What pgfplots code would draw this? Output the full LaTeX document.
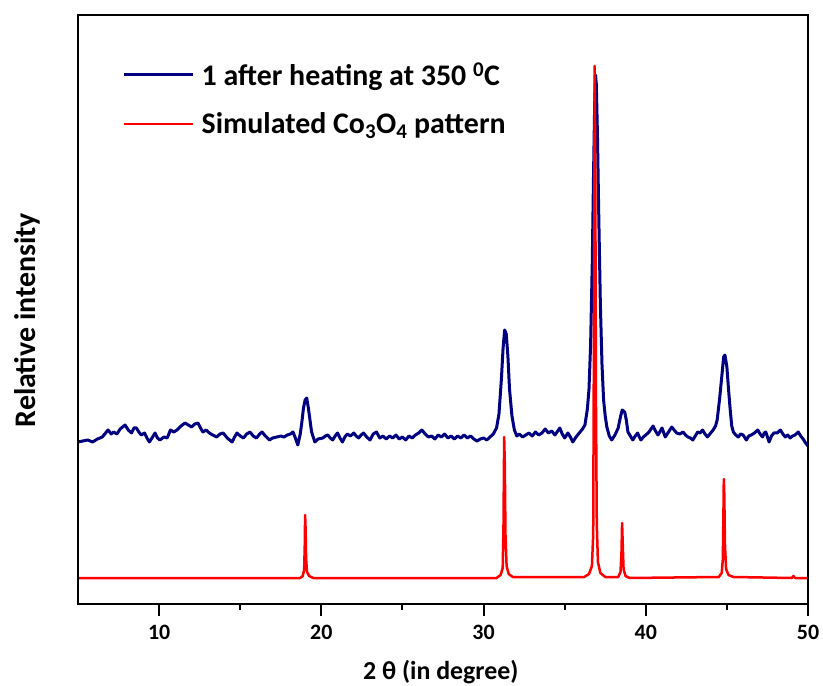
\documentclass[border=0pt]{standalone}
\usepackage{fontspec}
\setmainfont{Carlito}
\usepackage{pgfplots}
\pgfplotsset{compat=1.18}
\definecolor{navyb}{RGB}{0,0,128}
\definecolor{redr}{RGB}{255,0,0}
\begin{document}
\begin{tikzpicture}
\begin{axis}[
  scale only axis,
  width=730bp, height=589bp,
  xmin=5, xmax=50, ymin=0, ymax=589,
  axis lines=box,
  xtick={10,20,30,40,50},
  minor x tick num=1,
  ytick=\empty,
  xtick pos=bottom,
  tick align=outside,
  major tick length=12bp,
  minor tick length=6bp,
  every tick/.style={black, line width=2bp},
  axis line style={line width=2.5bp},
  /pgf/number format/assume math mode=true,
  ticklabel style={font=\bfseries\fontsize{22}{26}\selectfont},
  xticklabel style={yshift=-6bp},
  xlabel={2 θ (in degree)},
  ylabel={Relative intensity},
  label style={font=\bfseries\fontsize{26}{30}\selectfont},
  ylabel style={font=\bfseries\fontsize{30}{34}\selectfont},
  xlabel style={at={(axis description cs:0.497,-0.1155)}, anchor=center},
  ylabel style={at={(axis description cs:-0.0699,0.482)}, anchor=center},
  legend style={draw=none, fill=none, at={(axis description cs:0.0616,0.923)}, anchor=north west,
    font=\bfseries\fontsize{30}{34}\selectfont, row sep=22bp, column sep=5bp, inner sep=0pt},
  legend cell align=left,
  legend image code/.code={\draw[#1, line width=2.5bp] (0bp,0bp) -- (69bp,0bp);},
]
\addplot[navyb, line width=3bp, line join=round] coordinates {
(5.0,162)(5.3,163)(5.6,164)(5.9,162)(6.2,165)(6.5,167)(6.85,174)(7.05,170)(7.2,172)(7.4,170)
(7.6,175)(7.9,179)(8.1,174)(8.3,171)(8.45,176)(8.6,176)(8.75,172)(8.9,169)(9.1,171)(9.25,166)
(9.4,162)(9.6,167)(9.75,171)(9.9,166)(10.05,164)(10.3,167)(10.5,166)(10.7,174)(10.9,172)(11.1,174)
(11.35,178)(11.6,181)(11.8,179)(12.0,177)(12.2,180)(12.4,181)(12.55,176)(12.7,172)(12.9,174)(13.1,171)
(13.3,169)(13.55,167)(13.75,170)(13.95,171)(14.2,166)(14.5,162)(14.65,167)(14.8,171)(15.0,168)(15.2,166)
(15.4,170)(15.6,172)(15.8,168)(16.0,166)(16.2,170)(16.35,172)(16.55,168)(16.8,164)(17.0,166)(17.25,167)
(17.5,168)(17.7,167)(17.9,169)(18.1,170)(18.25,172)(18.4,166)(18.55,159)(18.7,170)(18.8,182)(18.9,196)
(19.0,204)(19.1,206)(19.2,196)(19.3,184)(19.4,172)(19.6,162)(19.8,165)(20.1,166)(20.25,168)(20.4,169)
(20.55,166)(20.7,164)(20.85,168)(21.0,171)(21.15,166)(21.3,162)(21.45,167)(21.6,170)(21.8,168)(22.0,171)
(22.15,168)(22.3,166)(22.45,169)(22.6,171)(22.8,167)(23.0,164)(23.2,170)(23.4,172)(23.6,166)(23.8,168)
(24.0,165)(24.2,168)(24.4,166)(24.6,169)(24.8,165)(25.0,167)(25.2,164)(25.4,168)(25.6,166)(25.8,169)
(26.0,171)(26.2,174)(26.4,170)(26.6,167)(26.8,168)(27.0,165)(27.2,169)(27.4,167)(27.6,170)(27.8,166)
(28.0,168)(28.2,165)(28.4,168)(28.6,166)(28.8,169)(29.0,166)(29.2,168)(29.4,165)(29.6,163)(29.8,165)
(30.0,166)(30.2,164)(30.4,167)(30.6,170)(30.8,176)(30.95,190)(31.1,225)(31.2,255)(31.3,274)(31.4,270)
(31.5,248)(31.6,215)(31.75,188)(31.9,174)(32.05,168)(32.2,170)(32.4,167)(32.6,169)(32.8,171)(33.0,168)
(33.2,172)(33.4,169)(33.6,171)(33.8,175)(34.0,171)(34.2,173)(34.4,169)(34.7,176)(34.85,170)(35.0,166)
(35.2,171)(35.35,167)(35.5,162)(35.7,167)(35.95,172)(36.1,175)(36.25,179)(36.4,195)(36.5,215)(36.6,260)
(36.7,340)(36.78,430)(36.85,500)(36.9,529)(36.95,520)(37.02,470)(37.1,390)(37.2,300)(37.3,240)(37.4,204)
(37.5,188)(37.6,177)(37.75,168)(37.9,164)(38.1,169)(38.3,176)(38.45,188)(38.55,194)(38.7,192)(38.8,184)
(38.9,172)(39.05,168)(39.2,164)(39.35,168)(39.5,171)(39.6,167)(39.7,164)(39.85,167)(40.0,169)(40.2,172)
(40.45,178)(40.6,173)(40.75,169)(40.9,173)(41.0,176)(41.2,167)(41.4,172)(41.6,177)(41.75,174)(41.9,171)
(42.1,170)(42.3,172)(42.45,169)(42.6,167)(42.75,166)(42.9,164)(43.05,168)(43.2,172)(43.35,171)(43.5,174)
(43.65,170)(43.8,167)(44.0,171)(44.15,174)(44.3,178)(44.4,184)(44.55,205)(44.7,230)(44.8,247)(44.88,249)
(45.0,237)(45.1,215)(45.2,195)(45.3,178)(45.4,172)(45.55,169)(45.7,167)(45.85,170)(46.0,169)(46.2,164)
(46.35,168)(46.5,169)(46.7,171)(46.9,174)(47.05,170)(47.2,167)(47.3,171)(47.4,172)(47.5,167)(47.6,162)
(47.75,168)(47.9,171)(48.1,171)(48.3,174)(48.45,170)(48.6,167)(48.75,169)(48.9,166)(49.05,168)(49.2,169)
(49.4,172)(49.55,168)(49.7,165)(49.85,161)(50.0,158)
};
\addlegendentry{1 after heating at 350 \textsuperscript{0}C}
\addplot[redr, line width=2.5bp, line join=round] coordinates {
(5,26)(18.7,26)(18.85,28)(18.94,34)(18.98,60)(19.0,89)(19.03,75)(19.06,45)(19.12,32)(19.25,28)(19.5,26)
(30.8,26)(31.05,29)(31.18,36)(31.23,80)(31.27,167)(31.31,140)(31.35,70)(31.42,38)(31.55,30)(31.8,27)
(36.2,27)(36.5,30)(36.68,38)(36.76,70)(36.81,300)(36.85,538)(36.89,420)(36.93,200)(36.98,80)(37.05,42)(37.2,31)(37.5,27)
(38.3,27)(38.44,32)(38.5,50)(38.54,81)(38.58,60)(38.63,35)(38.75,28)(39.0,26)
(44.5,27)(44.68,31)(44.75,45)(44.79,95)(44.81,125)(44.84,110)(44.88,60)(44.95,35)(45.1,29)(45.4,27)
(49.0,26)(49.1,28)(49.2,26)(50,26)
};
\addlegendentry{Simulated Co\textsubscript{3}O\textsubscript{4} pattern}
\coordinate (sw) at (rel axis cs:0,0);
\coordinate (ne) at (rel axis cs:1,1);
\end{axis}
\draw[line width=2.5bp, black] (sw) rectangle (ne);
\pgfresetboundingbox
\path ([shift={(-78bp,-82bp)}]sw) rectangle ([shift={(15bp,15bp)}]ne);
\end{tikzpicture}
\end{document}
